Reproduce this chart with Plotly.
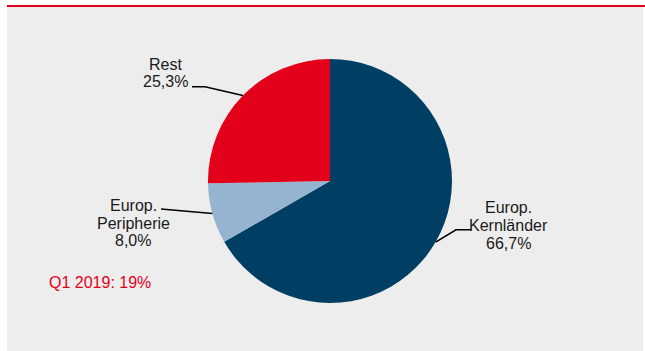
import math
import plotly.graph_objects as go

# ---- data ----
categories = ["Europ. Kernländer", "Europ. Peripherie", "Rest"]
shares = [66.7, 8.0, 25.3]
label_lines = [["Europ.", "Kernländer", "66,7%"],
               ["Europ.", "Peripherie", "8,0%"],
               ["Rest", "25,3%"]]
note_text = "Q1 2019: 19%"

# ---- styles / layout ----
W, H = 645, 351
colors = ["#003f63", "#95b4cf", "#e2001a"]
RED = "#e2001a"
TXT = "#1a1a1a"
FONT = "Liberation Sans, Arial, sans-serif"
cx, cy, r = 330, 181, 122          # pie center / radius in pixels
# label block centers (pixels) and line spacing
label_pos = [(508, 225.5), (133, 223), (165, 73)]
line_gap = 17.8
# leader line: label end point and elbow point (pixels)
leader = [((471, 229.7), (456, 229.7)),
          ((161, 209), None),
          ((192, 86.7), (205, 86.7))]

def px(x):
    return x / W

def py(y):
    return 1 - y / H

fig = go.Figure(go.Pie(
    labels=categories, values=shares, sort=False, direction="clockwise",
    rotation=0, marker=dict(colors=colors, line=dict(width=0)),
    textinfo="none", hoverinfo="label+percent", showlegend=False,
    domain=dict(x=[px(cx - r), px(cx + r)], y=[py(cy + r), py(cy - r)]),
))

shapes = [
    dict(type="rect", xref="paper", yref="paper", x0=px(7), x1=px(643),
         y0=py(351), y1=py(7), fillcolor="#ededed", line=dict(width=0),
         layer="below"),
    dict(type="rect", xref="paper", yref="paper", x0=px(7), x1=px(645),
         y0=py(7), y1=py(5), fillcolor=RED, line=dict(width=0),
         layer="below"),
]

annotations = []
total = sum(shares)
cum = 0.0
for i, v in enumerate(shares):
    mid = (cum + v / 2) / total * 2 * math.pi
    cum += v
    ex = cx + r * math.sin(mid)
    ey = cy - r * math.cos(mid)
    (lx, ly), elbow = leader[i]
    pts = [(lx, ly)] + ([elbow] if elbow else []) + [(ex, ey)]
    path = "M " + " L ".join(f"{px(a):.5f},{py(b):.5f}" for a, b in pts)
    shapes.append(dict(type="path", xref="paper", yref="paper", path=path,
                       line=dict(color="#000000", width=1.6)))
    bx, by = label_pos[i]
    n = len(label_lines[i])
    for j, t in enumerate(label_lines[i]):
        yy = by + (j - (n - 1) / 2) * line_gap
        annotations.append(dict(text=t, x=px(bx), y=py(yy), xref="paper",
                                yref="paper", showarrow=False,
                                xanchor="center", yanchor="middle",
                                font=dict(family=FONT, size=16, color=TXT)))

annotations.append(dict(text=note_text, x=px(100), y=py(282), xref="paper",
                        yref="paper", showarrow=False, xanchor="center",
                        yanchor="middle",
                        font=dict(family=FONT, size=16, color=RED)))

fig.update_layout(width=W, height=H, margin=dict(l=0, r=0, t=0, b=0),
                  paper_bgcolor="white", shapes=shapes,
                  annotations=annotations, showlegend=False)

fig.write_html("out.html")
